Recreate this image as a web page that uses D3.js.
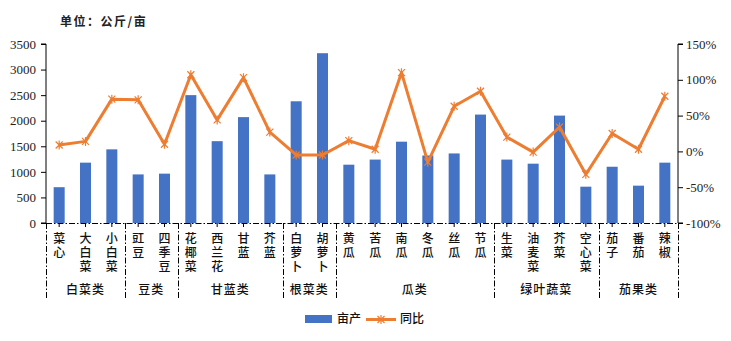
<!DOCTYPE html>
<html><head><meta charset="utf-8">
<script src="https://cdn.jsdelivr.net/npm/d3@7"></script>
<style>
body{margin:0;background:#fff;}
svg{display:block;}
</style></head>
<body>
<script>
const categories = [
  ["菜心"],["大白菜"],["小白菜"],
  ["豇豆"],["四季豆"],
  ["花椰菜"],["西兰花"],["甘蓝"],["芥蓝"],
  ["白萝卜"],["胡萝卜"],
  ["黄瓜"],["苦瓜"],["南瓜"],["冬瓜"],["丝瓜"],["节瓜"],
  ["生菜"],["油麦菜"],["芥菜"],["空心菜"],
  ["茄子"],["番茄"],["辣椒"]
].map(d => d[0]);
const groups = ["白菜类","豆类","甘蓝类","根菜类","瓜类","绿叶蔬菜","茄果类"];
const groupSizes = [3,2,4,2,6,4,3];
const yieldValues = [700,1180,1440,950,965,2500,1600,2070,950,2380,3320,1140,1240,1590,1320,1360,2120,1240,1160,2100,710,1100,730,1180];
const yoyValues = [9,14,73,72,10,107,44,103,27,-5,-5,15,3,110,-15,63,84,20,-1,34,-32,25,3,77];
const leftTicks = [0,500,1000,1500,2000,2500,3000,3500];
const rightTicks = [-100,-50,0,50,100,150];
const seriesNames = ["亩产","同比"];
const unitTitle = "单位：公斤/亩";

const W = 731, H = 341;
const m = {l:46, r:53, t:44, b:118};
const svg = d3.select("body").append("svg").attr("width",W).attr("height",H);
const x0 = m.l, x1 = W - m.r, y0 = H - m.b, y1 = m.t;
const BLUE = "#4472C4", ORANGE = "#ED7D31";
const serif = "'Liberation Serif','Times New Roman',serif";
const cjk = "'Noto Sans CJK SC','Noto Sans CJK JP',sans-serif";

const xc = d3.scaleBand().domain(categories).range([x0,x1]);
const yL = d3.scaleLinear().domain([0,3500]).range([y0,y1]);
const yR = d3.scaleLinear().domain([-100,150]).range([y0,y1]);

// bars
svg.append("g").selectAll("rect").data(categories).join("rect")
  .attr("x", d => xc(d) + xc.bandwidth()/2 - 5.5)
  .attr("width", 11)
  .attr("y", (d,i) => yL(yieldValues[i]))
  .attr("height", (d,i) => y0 - yL(yieldValues[i]))
  .attr("fill", BLUE);

// left axis
const gl = svg.append("g").attr("transform",`translate(${x0},0)`)
  .call(d3.axisLeft(yL).tickValues(leftTicks).tickSize(5).tickPadding(5).tickFormat(d3.format("d")));
gl.selectAll("text").attr("font-family",serif).attr("font-size",13).attr("fill","#222");
gl.selectAll("line,path").attr("stroke","#000");
gl.select(".domain").attr("d",`M-5,${y1}H0V${y0}H-5`);

// right axis
const gr = svg.append("g").attr("transform",`translate(${x1},0)`)
  .call(d3.axisRight(yR).tickValues(rightTicks).tickSize(5).tickPadding(3).tickFormat(d => d + "%"));
gr.selectAll("text").attr("font-family",serif).attr("font-size",13).attr("fill","#222");
gr.selectAll("line,path").attr("stroke","#000");
gr.select(".domain").attr("d",`M5,${y1}H0V${y0}H5`);

// bottom axis dash-dot
svg.append("line").attr("x1",x0).attr("x2",x1).attr("y1",y0+0.5).attr("y2",y0+0.5)
  .attr("stroke","#000").attr("stroke-width",1).attr("stroke-dasharray","6,2,1.5,2");
// center ticks
svg.append("g").selectAll("line").data(categories).join("line")
  .attr("x1", d => xc(d)+xc.bandwidth()/2).attr("x2", d => xc(d)+xc.bandwidth()/2)
  .attr("y1", y0).attr("y2", y0+4).attr("stroke","#000");

// group separators
let bounds = [0]; groupSizes.reduce((a,s)=>{bounds.push(a+s); return a+s;},0);
svg.append("g").selectAll("line").data(bounds).join("line")
  .attr("x1", i => Math.round(x0 + i*xc.step())+0.5).attr("x2", i => Math.round(x0 + i*xc.step())+0.5)
  .attr("y1", y0).attr("y2", y0+76)
  .attr("stroke","#000").attr("stroke-dasharray","6,2,1.5,2");

// category labels (vertical writing mode, one text each)
const cl = svg.append("g");
categories.forEach((c,i) => {
  const cx = xc(c) + xc.bandwidth()/2;
  cl.append("text").attr("x",cx).attr("y",232)
    .attr("writing-mode","vertical-rl").style("text-orientation","upright")
    .attr("letter-spacing",2)
    .attr("font-family",cjk).attr("font-size",12)
    .attr("font-weight",500).attr("fill","#111").text(c);
});
// group labels
groups.forEach((g,i) => {
  const cx = x0 + (bounds[i]+bounds[i+1])/2 * xc.step();
  svg.append("text").attr("x",cx).attr("y",290).attr("dy","0.35em")
    .attr("text-anchor","middle").attr("font-family",cjk).attr("font-size",12)
    .attr("font-weight",500).attr("letter-spacing",1).attr("fill","#111").text(g);
});

// line
const pts = categories.map((c,i) => [xc(c)+xc.bandwidth()/2, yR(yoyValues[i])]);
svg.append("path").attr("d", d3.line()(pts)).attr("fill","none")
  .attr("stroke",ORANGE).attr("stroke-width",3).attr("stroke-linejoin","round");
function star(g, cx, cy, r){
  g.append("path").attr("d",`M${cx-r},${cy-r}L${cx+r},${cy+r}M${cx-r},${cy+r}L${cx+r},${cy-r}M${cx},${cy-r-1}V${cy+r+1}`)
    .attr("stroke",ORANGE).attr("stroke-width",1.2).attr("fill","none");
}
const mk = svg.append("g");
pts.forEach(p => star(mk, p[0], p[1], 3.5));

// title
svg.append("text").attr("x",60).attr("y",22).attr("dy","0.35em")
  .attr("font-family",cjk).attr("font-size",12).attr("font-weight",700)
  .attr("letter-spacing",1.5).attr("fill","#222").text(unitTitle);

// legend
const lg = svg.append("g");
lg.append("rect").attr("x",305).attr("y",315).attr("width",27).attr("height",8).attr("fill",BLUE);
lg.append("text").attr("x",337).attr("y",319).attr("dy","0.35em").attr("font-family",cjk)
  .attr("font-size",12).attr("font-weight",500).attr("fill","#111").text(seriesNames[0]);
lg.append("line").attr("x1",366).attr("x2",396).attr("y1",319.5).attr("y2",319.5)
  .attr("stroke",ORANGE).attr("stroke-width",3);
star(lg, 381, 319.5, 3.5);
lg.append("text").attr("x",400).attr("y",319).attr("dy","0.35em").attr("font-family",cjk)
  .attr("font-size",12).attr("font-weight",500).attr("fill","#111").text(seriesNames[1]);
</script>
</body></html>
